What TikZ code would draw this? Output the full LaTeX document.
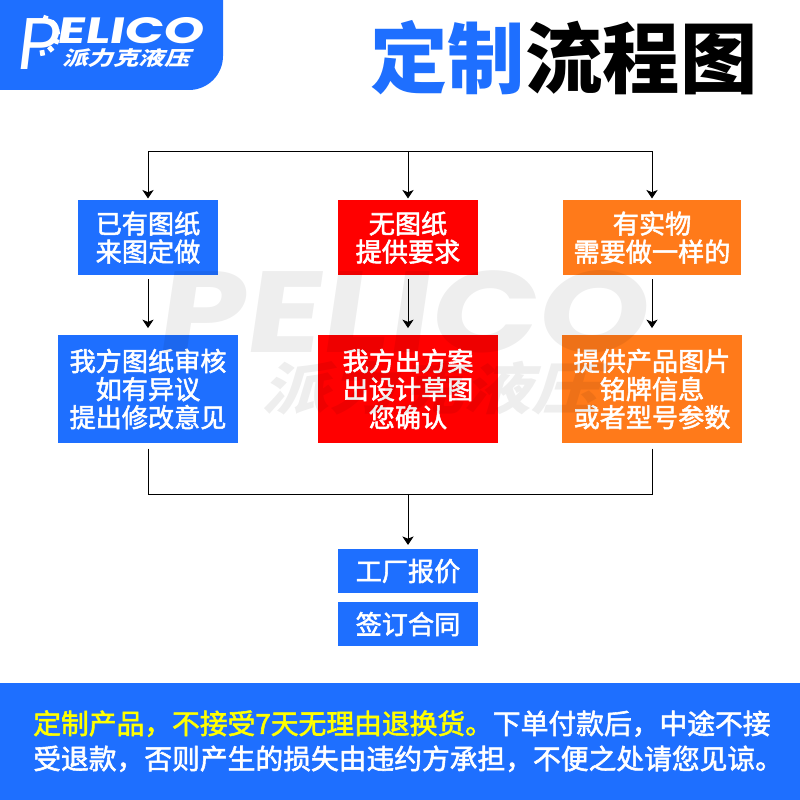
\documentclass[tikz,border=0pt]{standalone}
\usepackage{xcolor}
\usepackage{fontspec}
\usepackage{tikz}
\usetikzlibrary{positioning,arrows.meta}
\setmainfont{Noto Sans CJK SC}
\newfontfamily\logofont[FakeSlant=0.12]{Poppins}
\newfontfamily\medfont[FakeBold=2]{Noto Sans CJK SC}
\newfontfamily\slantfont[FakeSlant=0.25]{Noto Sans CJK SC}
\definecolor{brandblue}{RGB}{30,111,255}
\definecolor{flowred}{RGB}{255,0,0}
\definecolor{floworange}{RGB}{255,122,26}
\definecolor{noteyellow}{RGB}{255,255,0}
\tikzset{
  flowbox/.style={text=white, inner sep=0pt, outer sep=0pt, minimum width=3.5cm,
                  font=\fontsize{18.6}{20}\selectfont\medfont, align=center},
  bluebox/.style={flowbox, fill=brandblue},
  redbox/.style={flowbox, fill=flowred},
  orangebox/.style={flowbox, fill=floworange},
  arr/.style={-{Stealth[length=6pt,width=8pt,inset=1.6pt]}, line width=0.6pt, black},
  bus/.style={line width=0.6pt, black},
  titletext/.style={font=\fontsize{55}{60}\selectfont\bfseries, inner sep=0pt},
  notetext/.style={font=\fontsize{19.75}{25}\selectfont\medfont, text=white, align=left, inner sep=0pt},
  watermark/.style={text=black, opacity=0.065, inner sep=0pt}
}
\begin{document}
\begin{tikzpicture}
  \useasboundingbox (0,0) rectangle (20,20);

  % Logo corner
  \fill[brandblue] (0,20) -- (5.575,20) -- (5.575,18.6) arc (0:-90:0.85) -- (0,17.75) -- cycle;
  \node[font=\fontsize{52}{52}\selectfont\logofont, text=white, inner sep=0pt] (logop) at (0.92,18.9) {P};
  \foreach \a in {-80,-50,...,70}{
    \fill[white, rotate around={\a:(0.98,19.12)}] (1.36,19.06) rectangle (1.5,19.18);
  }
  \node[font=\fontsize{26}{26}\selectfont\logofont\bfseries, text=white, inner sep=0pt, xscale=1.4] (logoname) at (3.25,19.23) {ELICO};
  \node[font=\fontsize{14}{15}\selectfont\slantfont\bfseries, text=white, inner sep=0pt, xscale=1.3] (logocn) at (3.15,18.55) {派力克液压};

  % Title
  \node[titletext, text=brandblue, anchor=west] (titlea) at (9.25,18.55) {定制};
  \node[titletext, text=black, right=0cm of titlea] (titleb) {流程图};

  % First row
  \node[bluebox, minimum height=1.875cm] (hasdrawing) at (3.7,14.06) {已有图纸\\来图定做};
  \node[redbox, minimum height=1.875cm] (nodrawing) at (10.2,14.06) {无图纸\\提供要求};
  \node[orangebox, minimum width=4.45cm, minimum height=1.875cm] (hassample) at (16.3,14.06) {有实物\\需要做一样的};

  % Second row
  \node[bluebox, minimum width=4.5cm, minimum height=2.7cm, below=1.5cm of hasdrawing] (review) {我方图纸审核\\如有异议\\提出修改意见};
  \node[redbox, minimum width=4.5cm, minimum height=2.7cm, below=1.5cm of nodrawing] (scheme) {我方出方案\\出设计草图\\您确认};
  \node[orangebox, minimum width=4.5cm, minimum height=2.7cm, below=1.5cm of hassample] (photos) {提供产品图片\\铭牌信息\\或者型号参数};

  % Last two boxes
  \node[bluebox, minimum height=1.1cm, below=2.65cm of scheme] (quote) {工厂报价};
  \node[bluebox, minimum height=1.1cm, below=0.225cm of quote] (contract) {签订合同};

  % Connectors
  \coordinate (topbus) at (10.2,16.225);
  \coordinate (mergebus) at (10.2,7.65);
  \draw[arr, shorten >=1.2pt] (topbus) -| (hasdrawing.north);
  \draw[arr, shorten >=1.2pt] (topbus) -- (nodrawing.north);
  \draw[arr, shorten >=1.2pt] (topbus) -| (hassample.north);
  \draw[arr, shorten <=3pt, shorten >=5pt] (hasdrawing.south) -- (review.north);
  \draw[arr, shorten <=3pt, shorten >=5pt] (nodrawing.south) -- (scheme.north);
  \draw[arr, shorten <=3pt, shorten >=5pt] (hassample.south) -- (photos.north);
  \draw[bus, shorten <=4pt] (review.south) |- (mergebus);
  \draw[bus, shorten <=4pt] (photos.south) |- (mergebus);
  \draw[arr, shorten >=3pt] (mergebus) -- (quote.north);

  % Bottom note
  \fill[brandblue] (0,0) rectangle (20,2.925);
  \node[notetext, anchor=west] (note) at (0.825,1.47)
       {\textcolor{noteyellow}{定制产品，不接受7天无理由退换货。}下单付款后，中途不接\\受退款，否则产生的损失由违约方承担，不便之处请您见谅。};

  % Watermark
  \node[watermark, font=\fontsize{82}{82}\selectfont\logofont\bfseries, xscale=1.22] (markname) at (10,12.2) {PELICO};
  \node[watermark, font=\fontsize{40}{40}\selectfont\slantfont\bfseries, xscale=1.2] (markcn) at (10.75,10.3) {派力克液压};
\end{tikzpicture}
\end{document}
